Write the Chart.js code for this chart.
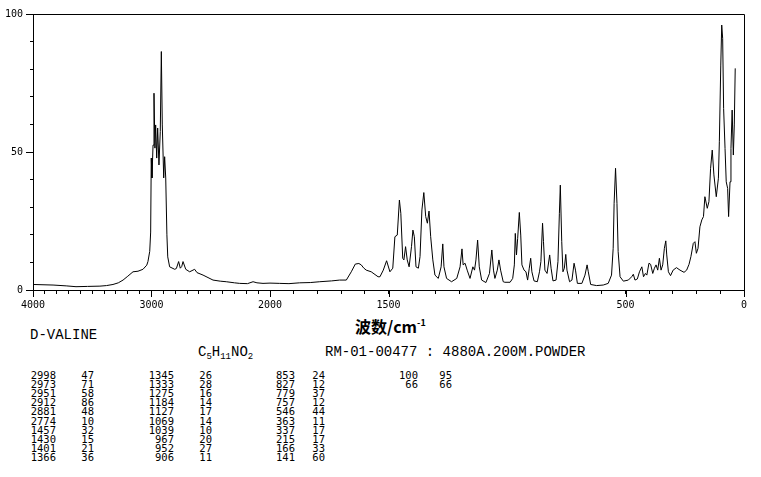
<!DOCTYPE html>
<html>
<head>
<meta charset="utf-8">
<script src="https://cdn.jsdelivr.net/npm/chart.js@4"></script>
<style>
  html, body { margin: 0; padding: 0; background: #fff; }
  #page { position: relative; width: 761px; height: 477px; overflow: hidden; color: #000; }
  #c { position: absolute; left: 0; top: 0; }
  .txt { position: absolute; white-space: pre; font-family: "Liberation Mono", monospace; font-size: 14px; line-height: 14px; }
  #axisTitle { position: absolute; left: 355px; top: 317px; font-family: "Noto Sans CJK SC", sans-serif; font-weight: bold; font-size: 16px; line-height: 18px; white-space: pre; }
  #axisTitle sup { font-size: 9px; vertical-align: 7px; line-height: 0; }
  .sub { font-size: 9px; vertical-align: -3px; }
  .cell { position: absolute; font-family: "DejaVu Sans Mono", monospace; font-size: 10.5px; line-height: 10px; text-align: right; }
</style>
</head>
<body>
<div id="page">
  <canvas id="c" width="761" height="312"></canvas>
  <div id="axisTitle">波数/cm<sup>-1</sup></div>
  <div class="txt" style="left:30px; top:328px;">D-VALINE</div>
  <div class="txt" style="left:198px; top:345px;">C<span class="sub">5</span>H<span class="sub">11</span>NO<span class="sub">2</span></div>
  <div class="txt" style="left:325px; top:345px;">RM-01-00477 : 4880A.200M.POWDER</div>
  <div id="table"></div>
</div>
<script>
// Raman shift (cm-1) and intensity, high -> low
const shiftCm = [
  4000, 3831, 3720, 3637, 3540, 3435, 3380, 3325, 3280, 3240, 3200, 3156, 3114, 3072, 3040, 3030, 3015, 3007,
  3002, 2996, 2987, 2979, 2971, 2965, 2956, 2948, 2937, 2926, 2917, 2909, 2897, 2889, 2880, 2870, 2863,
  2847, 2804, 2790, 2771, 2757, 2745, 2734, 2711, 2678, 2636, 2616, 2565, 2481, 2420, 2369, 2300, 2256,
  2190, 2143, 2110, 2059, 2000, 1959, 1920, 1875, 1830, 1790, 1740, 1706, 1678, 1657, 1640, 1625, 1615,
  1605, 1594, 1573, 1544, 1536, 1522, 1508, 1494, 1482, 1473, 1463, 1454, 1448, 1440, 1435, 1428, 1421,
  1413, 1403, 1397, 1391, 1384, 1374, 1367, 1359, 1351, 1343, 1336, 1329, 1322, 1313, 1304, 1290, 1278,
  1271, 1266, 1255, 1234, 1212, 1198, 1190, 1185, 1177, 1168, 1156, 1144, 1137, 1131, 1124, 1117, 1107,
  1089, 1074, 1064, 1057, 1051, 1041, 1034, 1027, 1016, 1009, 987, 976, 969, 965, 960, 955, 948, 942,
  937, 928, 920, 913, 906, 900, 895, 886, 872, 863, 857, 850, 846, 840, 831, 820, 814, 806, 793, 785,
  779, 775, 769, 764, 758, 752, 747, 736, 726, 717, 711, 703, 684, 671, 662, 657, 647, 622, 594, 573,
  559, 552, 548, 542, 536, 531, 523, 509, 488, 474, 467, 460, 450, 441, 431, 424, 416, 410, 401, 394,
  385, 378, 371, 364, 357, 350, 343, 336, 330, 326, 319, 310, 299, 285, 270, 253, 242, 232, 224, 214,
  207, 201, 194, 186, 178, 171, 165, 155, 148, 141, 134, 127, 117, 108, 104, 98, 94, 90, 86, 80,
  75, 69, 65, 59, 55, 50, 45, 41, 37
];
const intensity = [
  2.0, 1.8, 1.5, 1.2, 1.3, 1.4, 1.6, 2.0, 2.6, 3.6, 5.0, 6.6, 6.8, 7.5, 9.0, 10.3, 14, 21,
  47.8, 40.6, 52.5, 71.3, 51.4, 59.8, 47.8, 58.7, 45.3, 57.4, 86.4, 59.8, 40.6, 48.3, 40.6, 20, 12,
  8.4, 7.5, 7.8, 10.3, 7.9, 8.5, 10.3, 7.5, 6.6, 7.5, 6.3, 5.4, 3.6, 3.2, 3.0, 2.6, 2.4,
  2.3, 3.0, 2.6, 2.4, 2.5, 2.4, 2.3, 2.6, 2.7, 3.0, 3.3, 3.6, 3.6, 6.6, 9.4, 9.6, 9.1,
  8.0, 7.2, 6.6, 4.8, 4.8, 7.2, 10.6, 6.6, 7.9, 19.3, 19.9, 32.6, 27.8, 11.5, 10.9, 15.7, 10.9,
  8.4, 15.7, 21.7, 19.3, 8.4, 7.9, 12.1, 29.0, 35.3, 26.6, 24.2, 28.6, 19.3, 10.9, 5.4, 4.2, 8.4,
  16.7, 8.4, 4.2, 3.0, 4.2, 8.4, 14.9, 9.1, 9.7, 7.2, 4.2, 8.4, 7.2, 10.9, 18.1, 8.4, 3.6,
  2.7, 6.0, 14.5, 7.2, 4.2, 7.2, 10.9, 7.2, 3.0, 2.8, 2.8, 4.2, 9.1, 20.5, 12.7, 18.7, 28.1, 19.9,
  9.1, 7.2, 6.6, 3.6, 7.9, 11.5, 6.6, 3.3, 3.0, 6.6, 10.3, 24.2, 17.5, 7.2, 6.0, 12.7, 7.9, 3.3, 3.6, 10.3,
  27.8, 38.0, 17.5, 6.6, 7.9, 12.9, 7.2, 3.0, 3.6, 9.7, 7.2, 2.4, 2.4, 5.4, 9.1, 6.6, 2.0, 1.6, 1.8, 2.4,
  5.4, 15.1, 31.4, 44.1, 31.4, 13.9, 4.8, 3.2, 3.6, 4.8, 5.7, 3.6, 4.0, 6.6, 8.4, 4.8, 6.0, 5.4, 9.7, 9.3,
  6.0, 7.9, 9.1, 7.2, 11.5, 7.2, 9.1, 15.1, 17.8, 12.7, 6.6, 5.2, 7.2, 8.1, 7.2, 6.4, 7.2, 9.3, 12.1, 16.9,
  17.5, 13.3, 15.1, 22.9, 25.4, 26.6, 33.8, 29.6, 32.0, 44.1, 50.7, 41.7, 33.8, 40.5, 53.7, 81.5, 96.0, 91.2, 65.8, 51.3,
  39.2, 36.8, 26.6, 39.2, 51.3, 65.2, 48.9, 59.8, 80.3
];

// axis ticks (cm-1); the scale is compressed 2:1 above 2000
const tickShifts = [];
for (let w = 4000; w >= 0; w -= 100) tickShifts.push(w);
const labeledShifts = [4000, 3000, 2000, 1500, 500, 0];
const yLabeled = [0, 50, 100];

// peak table
const peakCol1 = ["2998","2973","2951","2912","2881","2774","1457","1430","1401","1366"];
const intCol1  = ["47","71","58","86","48","10","32","15","21","36"];
const peakCol2 = ["1345","1333","1275","1184","1127","1069","1039","967","952","906"];
const intCol2  = ["26","28","16","14","17","14","10","20","27","11"];
const peakCol3 = ["853","827","779","757","546","363","337","215","166","141"];
const intCol3  = ["24","12","37","12","44","11","17","17","33","60"];
const peakCol4 = ["100","66"];
const intCol4  = ["95","66"];

const toAxis = (w) => w <= 2000 ? w : 2000 + (w - 2000) / 2;
const fromAxis = (u) => Math.round(u <= 2000 ? u : 2000 + (u - 2000) * 2);

const points = shiftCm.map((w, i) => ({ x: toAxis(w), y: intensity[i] }));

const frameAndTicks = {
  id: "frameAndTicks",
  afterDraw(chart) {
    const { ctx, chartArea: a, scales } = chart;
    ctx.save();
    ctx.strokeStyle = "#000";
    ctx.lineWidth = 1;
    ctx.beginPath();
    ctx.moveTo(Math.round(a.left) + 0.5, Math.round(a.top) + 0.5);
    ctx.lineTo(Math.round(a.right) + 0.5, Math.round(a.top) + 0.5);
    ctx.lineTo(Math.round(a.right) + 0.5, Math.round(a.bottom) + 0.5);
    labeledShifts.forEach(w => {
      const x = Math.round(scales.x.getPixelForValue(toAxis(w))) + 0.5;
      ctx.moveTo(x, a.bottom);
      ctx.lineTo(x, a.bottom + 7);
    });
    yLabeled.forEach(v => {
      const y = Math.round(scales.y.getPixelForValue(v)) + 0.5;
      ctx.moveTo(a.left, y);
      ctx.lineTo(a.left - 7, y);
    });
    ctx.stroke();
    ctx.restore();
  }
};

new Chart(document.getElementById("c"), {
  type: "line",
  data: {
    datasets: [{
      data: points,
      borderColor: "#000",
      borderWidth: 1,
      pointRadius: 0,
      tension: 0,
      fill: false
    }]
  },
  options: {
    responsive: false,
    animation: false,
    layout: { padding: { left: 0, top: 14, right: 17, bottom: 0 } },
    plugins: { legend: { display: false }, tooltip: { enabled: false } },
    scales: {
      x: {
        type: "linear",
        min: 0,
        max: 3000,
        reverse: true,
        afterBuildTicks: (scale) => { scale.ticks = tickShifts.map(w => ({ value: toAxis(w) })); },
        afterFit: (scale) => { scale.height = 22; },
        grid: { drawOnChartArea: false, drawTicks: true, tickLength: 4, color: "#000" },
        border: { display: true, color: "#000", width: 1 },
        ticks: {
          autoSkip: false,
          maxRotation: 0,
          padding: 5,
          color: "#000",
          font: { family: "DejaVu Sans Mono", size: 10 },
          callback: (v) => labeledShifts.includes(fromAxis(v)) ? String(fromAxis(v)) : ""
        }
      },
      y: {
        min: 0,
        max: 100,
        afterFit: (scale) => { scale.width = 33; },
        grid: { drawOnChartArea: false, drawTicks: true, tickLength: 3, color: "#000" },
        border: { display: true, color: "#000", width: 1 },
        ticks: {
          stepSize: 10,
          padding: 7,
          color: "#000",
          font: { family: "DejaVu Sans Mono", size: 10 },
          callback: (v) => yLabeled.includes(v) ? String(v) : ""
        }
      }
    }
  },
  plugins: [frameAndTicks]
});

// peak listing below the plot
const columns = [
  [peakCol1, 56], [intCol1, 94], [peakCol2, 174], [intCol2, 212],
  [peakCol3, 295], [intCol3, 325], [peakCol4, 418], [intCol4, 452]
];
const table = document.getElementById("table");
columns.forEach(([vals, right]) => {
  vals.forEach((s, r) => {
    const d = document.createElement("div");
    d.className = "cell";
    d.textContent = s;
    d.style.right = (761 - right) + "px";
    d.style.top = (370 + r * 9.1) + "px";
    table.appendChild(d);
  });
});
</script>
</body>
</html>
